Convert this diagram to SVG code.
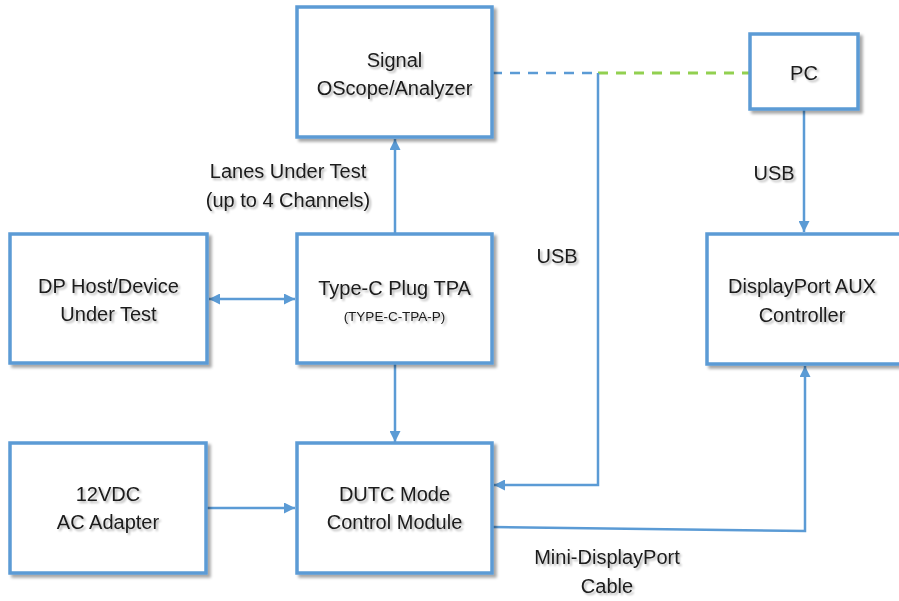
<svg xmlns="http://www.w3.org/2000/svg" width="899" height="601" viewBox="0 0 899 601">
<style>
.box{fill:#fff;stroke:#5b9bd5;stroke-width:3.5;filter:url(#sh)}
.t{font-family:"Liberation Sans","DejaVu Sans",sans-serif;font-size:20px;fill:#1a1a1a;text-anchor:middle;filter:url(#ts)}
.s{font-size:13.5px}
.c{fill:none;stroke:#5b9bd5;stroke-width:2.5}
.db{stroke-dasharray:10 8}
.dg{fill:none;stroke:#92d050;stroke-width:3;stroke-dasharray:10 8}
</style>
<defs>
<filter id="sh" x="-10%" y="-10%" width="125%" height="125%">
<feGaussianBlur in="SourceAlpha" stdDeviation="1.5"/>
<feOffset dx="3" dy="3" result="b"/>
<feComponentTransfer><feFuncA type="linear" slope="0.35"/></feComponentTransfer>
<feMerge><feMergeNode/><feMergeNode in="SourceGraphic"/></feMerge>
</filter>
<filter id="ts" x="-10%" y="-30%" width="125%" height="170%">
<feGaussianBlur in="SourceAlpha" stdDeviation="1.2"/>
<feOffset dx="1.5" dy="2"/>
<feComponentTransfer><feFuncA type="linear" slope="0.3"/></feComponentTransfer>
<feMerge><feMergeNode/><feMergeNode in="SourceGraphic"/></feMerge>
</filter>
<marker id="ah" viewBox="0 0 10 10" refX="10" refY="5" markerWidth="4.4" markerHeight="4.4" orient="auto-start-reverse" markerUnits="strokeWidth">
<path d="M0,0 L10,5 L0,10 z" fill="#5b9bd5"/>
</marker>
</defs>

<g id="connectors">
<line class="c db" x1="492" y1="73" x2="598" y2="73"/>
<line class="dg" x1="598" y1="73" x2="750" y2="73"/>
<polyline class="c" points="598,73 598,485 494,485" marker-end="url(#ah)"/>
<line class="c" x1="395" y1="234" x2="395" y2="139" marker-end="url(#ah)"/>
<line class="c" x1="395" y1="363" x2="395" y2="442" marker-end="url(#ah)"/>
<line class="c" x1="209" y1="299" x2="295" y2="299" marker-start="url(#ah)" marker-end="url(#ah)"/>
<line class="c" x1="207" y1="508" x2="295" y2="508" marker-end="url(#ah)"/>
<line class="c" x1="804" y1="109" x2="804" y2="232" marker-end="url(#ah)"/>
<polyline class="c" points="492,527 805,531 805,366" marker-end="url(#ah)"/>
</g>

<g id="signal">
<rect class="box" x="297" y="7" width="195" height="130"/>
<text class="t" x="394.5" y="67">Signal</text>
<text class="t" x="394.5" y="95">OScope/Analyzer</text>
</g>
<g id="pc">
<rect class="box" x="750" y="34" width="108" height="75"/>
<text class="t" x="804" y="80">PC</text>
</g>
<g id="dp-host">
<rect class="box" x="10" y="234" width="197" height="129"/>
<text class="t" x="108.5" y="293">DP Host/Device</text>
<text class="t" x="108.5" y="321">Under Test</text>
</g>
<g id="typec">
<rect class="box" x="297" y="234" width="195" height="129"/>
<text class="t" x="394.5" y="295">Type-C Plug TPA</text>
<text class="t s" x="394.5" y="321">(TYPE-C-TPA-P)</text>
</g>
<g id="aux">
<rect class="box" x="707" y="234" width="195" height="130"/>
<text class="t" x="802" y="293">DisplayPort AUX</text>
<text class="t" x="802" y="322">Controller</text>
</g>
<g id="adapter">
<rect class="box" x="10" y="443" width="196" height="130"/>
<text class="t" x="108" y="501">12VDC</text>
<text class="t" x="108" y="529">AC Adapter</text>
</g>
<g id="dutc">
<rect class="box" x="297" y="443" width="195" height="130"/>
<text class="t" x="394.5" y="501">DUTC Mode</text>
<text class="t" x="394.5" y="529">Control Module</text>
</g>

<g id="labels">
<text class="t" x="288" y="178">Lanes Under Test</text>
<text class="t" x="288" y="207">(up to 4 Channels)</text>
<text class="t" x="557" y="263">USB</text>
<text class="t" x="774" y="180">USB</text>
<text class="t" x="607" y="564">Mini-DisplayPort</text>
<text class="t" x="607" y="593">Cable</text>
</g>
</svg>
